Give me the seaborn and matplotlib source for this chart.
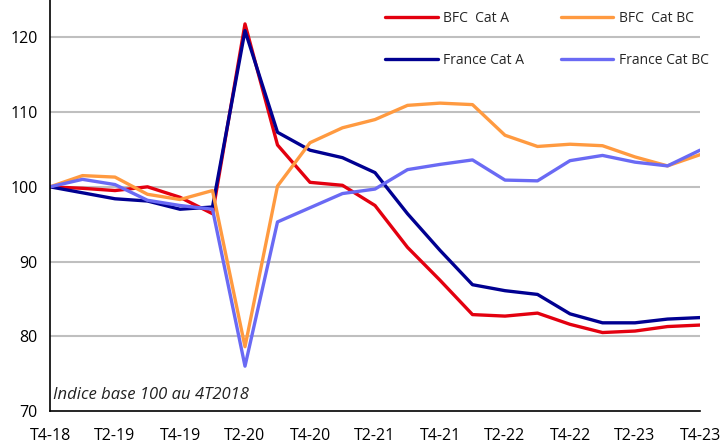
import pandas as pd
import matplotlib.pyplot as plt
import seaborn as sns

trimestres = ['T4-18', 'T1-19', 'T2-19', 'T3-19', 'T4-19', 'T1-20', 'T2-20',
              'T3-20', 'T4-20', 'T1-21', 'T2-21', 'T3-21', 'T4-21', 'T1-22',
              'T2-22', 'T3-22', 'T4-22', 'T1-23', 'T2-23', 'T3-23', 'T4-23']

bfc_cat_a = [100, 99.8, 99.5, 100.0, 98.6, 96.4, 121.8, 105.6, 100.6, 100.2, 97.5,
             91.9, 87.5, 82.9, 82.7, 83.1, 81.6, 80.5, 80.7, 81.3, 81.5]
bfc_cat_bc = [100, 101.5, 101.3, 99.0, 98.3, 99.5, 78.6, 100.1, 105.9, 107.9, 109.0,
              110.9, 111.2, 111.0, 106.9, 105.4, 105.7, 105.5, 104.0, 102.8, 104.3]
france_cat_a = [100, 99.2, 98.4, 98.1, 97.0, 97.3, 120.9, 107.3, 104.9, 103.9, 101.9,
                96.4, 91.5, 86.9, 86.1, 85.6, 83.0, 81.8, 81.8, 82.3, 82.5]
france_cat_bc = [100, 101.0, 100.3, 98.2, 97.5, 97.0, 76.0, 95.3, 97.2, 99.1, 99.7,
                 102.3, 103.0, 103.6, 100.9, 100.8, 103.5, 104.2, 103.3, 102.8, 104.9]

series = {
    'BFC  Cat A': bfc_cat_a,
    'BFC  Cat BC': bfc_cat_bc,
    'France Cat A': france_cat_a,
    'France Cat BC': france_cat_bc,
}
couleurs = {
    'BFC  Cat A': '#E3000F',
    'BFC  Cat BC': '#FF9A40',
    'France Cat A': '#000091',
    'France Cat BC': '#6A6AF4',
}

df = pd.DataFrame([
    {'t': i, 'Série': nom, 'Indice': v}
    for nom, vals in series.items()
    for i, v in enumerate(vals)
])

sns.set_style('white')
plt.rcParams['font.family'] = ['Open Sans', 'DejaVu Sans']

fig = plt.figure(figsize=(7.21, 4.43), dpi=100)
ax = fig.add_axes([50 / 721, 1 - 411 / 443, 650 / 721, 411 / 443])

# ordre colonne par colonne pour avoir BFC sur la 1re ligne
ordre = ['BFC  Cat A', 'France Cat A', 'BFC  Cat BC', 'France Cat BC']
sns.lineplot(data=df, x='t', y='Indice', hue='Série', palette=couleurs,
             hue_order=ordre, linewidth=2.4, ax=ax)

ax.set_xlim(0, len(trimestres) - 1)
ax.set_ylim(70, 125)
ax.set_yticks([70, 80, 90, 100, 110, 120])
ax.set_xticks(range(len(trimestres)))
ax.set_xticklabels([t if i % 2 == 0 else '' for i, t in enumerate(trimestres)])
ax.tick_params(axis='both', direction='out', length=5, width=1.2, color='black',
               labelsize=11.5, labelcolor='black')
ax.tick_params(axis='x', pad=7)
ax.tick_params(axis='y', pad=4)
ax.set_xlabel('')
ax.set_ylabel('')

for y in [80, 90, 100, 110, 120]:
    ax.axhline(y, color='#BFBFBF', linewidth=1.5, zorder=0)

for s in ['top', 'right']:
    ax.spines[s].set_visible(False)
for s in ['left', 'bottom']:
    ax.spines[s].set_color('black')
    ax.spines[s].set_linewidth(1.2)

ax.text(0.1, 71.6, 'Indice base 100 au 4T2018', style='italic', fontsize=12,
        color='#222222')

ax.legend(loc='upper left', bbox_to_anchor=(324 / 650, 1.0), ncol=2, frameon=False,
          fontsize=10, handlelength=3.8, columnspacing=2.6, labelspacing=1.9,
          handletextpad=0.4, borderaxespad=0.4)

plt.savefig('out.png', dpi=100)
